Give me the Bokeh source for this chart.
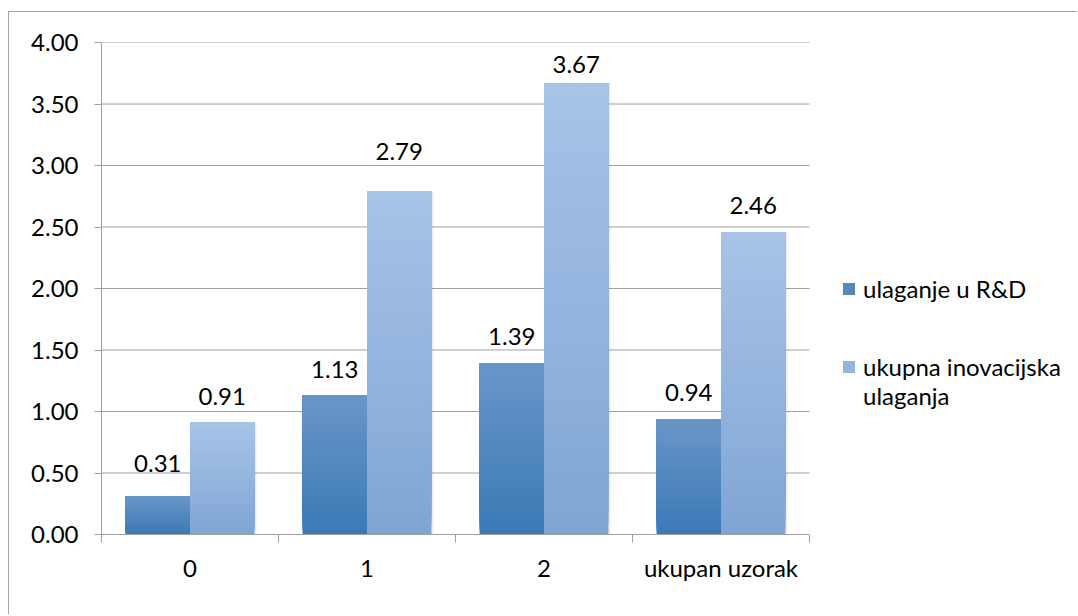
from bokeh.plotting import figure
from bokeh.models import (Range1d, FixedTicker, ColumnDataSource, Legend, LegendItem,
                          PrintfTickFormatter)
from bokeh.embed import file_html
from bokeh.resources import INLINE
from bokeh.core.properties import value

# ---------------- data ----------------
categories = ["0", "1", "2", "ukupan uzorak"]
series_names = ["ulaganje u R&D", "ukupna inovacijska", "ulaganja"]
rd_values = [0.31, 1.13, 1.39, 0.94]
total_values = [0.91, 2.79, 3.67, 2.46]
y_ticks = [0.0, 0.5, 1.0, 1.5, 2.0, 2.5, 3.0, 3.5, 4.0]

# ---------------- styling ----------------
FONT = "Lato"
FS = "24px"
GREY = "#a0a0a0"
BAR_W = 0.364
DARK = ("#3b79b6", "#6a96c8")    # bottom, top
LIGHT = ("#7fa5d5", "#a8c4e7")   # bottom, top
N_STEPS = 40
CAT_PX = 177                     # pixel width of one category slot
FRAME_W = 976                    # plot frame incl. legend area
FRAME_H = 492
Y_MAX = 4.0
N_CAT = len(categories)
HALF_DIGIT_PX = 8.5              # half the height of a digit at FS
# pixel gap between each bar top and the bottom of its label (as placed in the original)
rd_label_gap_px = [24, 18, 19, 18]
total_label_gap_px = [18, 31, 10, 18]

centers = [i + 0.5 for i in range(N_CAT)]
x_rd = [c - BAR_W / 2 for c in centers]
x_tot = [c + BAR_W / 2 for c in centers]


def hex2rgb(h):
    h = h.lstrip("#")
    return tuple(int(h[i:i + 2], 16) for i in (0, 2, 4))


def lerp(c0, c1, t):
    a, b = hex2rgb(c0), hex2rgb(c1)
    return "#%02x%02x%02x" % tuple(round(a[i] + (b[i] - a[i]) * t) for i in range(3))


def gradient_source(xs, vals, colors):
    d = dict(x=[], bottom=[], top=[], color=[])
    for k in range(N_STEPS):
        for x, v in zip(xs, vals):
            d["x"].append(x)
            d["bottom"].append(v * k / N_STEPS)
            d["top"].append(v)
            d["color"].append(lerp(colors[0], colors[1], (k + 0.5) / N_STEPS))
    return ColumnDataSource(d)


p = figure(
    frame_width=FRAME_W, frame_height=FRAME_H,
    min_border_left=92, min_border_right=0, min_border_top=30, min_border_bottom=80,
    x_range=Range1d(0, FRAME_W / CAT_PX), y_range=Range1d(0, Y_MAX),
    output_backend="svg", toolbar_location=None,
)
p.styles = {"border-top": "1px solid #a6a6a6", "border-left": "1px solid #a6a6a6",
            "margin-top": "11px", "margin-left": "8px"}
p.outline_line_color = None
p.background_fill_color = "white"
p.border_fill_color = "white"

# horizontal gridlines limited to the category area
p.segment(x0=0, x1=N_CAT, y0=y_ticks[1:], y1=y_ticks[1:], line_color=GREY, line_width=1)
p.xgrid.visible = False
p.ygrid.visible = False

# shadows
shadow_kw = dict(width=BAR_W, fill_color="#000000", fill_alpha=0.07, line_color=None)
p.vbar(x=[x + 0.012 for x in x_rd], top=rd_values, bottom=0, **shadow_kw)
p.vbar(x=[x + 0.012 for x in x_tot], top=total_values, bottom=0, **shadow_kw)

src_rd = gradient_source(x_rd, rd_values, DARK)
src_tot = gradient_source(x_tot, total_values, LIGHT)
r_rd = p.vbar(x="x", bottom="bottom", top="top", width=BAR_W, fill_color="color",
              line_color=None, source=src_rd)
r_tot = p.vbar(x="x", bottom="bottom", top="top", width=BAR_W, fill_color="color",
               line_color=None, source=src_tot)

# value labels
all_vals = rd_values + total_values
lab = ColumnDataSource(dict(
    x=x_rd + x_tot,
    y=all_vals,
    dy=[-(g + HALF_DIGIT_PX) for g in rd_label_gap_px + total_label_gap_px],
    t=["%.2f" % v for v in all_vals],
))
p.text(x="x", y="y", text="t", y_offset="dy", source=lab, text_align="center",
       text_baseline="middle", text_font=value(FONT), text_font_size=FS,
       text_color="#000000")

# axes
p.yaxis.ticker = FixedTicker(ticks=y_ticks)
p.yaxis.formatter = PrintfTickFormatter(format="%.2f")
p.yaxis.major_tick_out = 7
p.yaxis.major_tick_in = 0
p.yaxis.minor_tick_line_color = None
p.yaxis.axis_line_color = GREY
p.yaxis.major_tick_line_color = GREY
p.yaxis.major_label_standoff = 16

p.xaxis.bounds = (0, N_CAT)
p.xaxis.ticker = FixedTicker(ticks=centers, minor_ticks=list(range(N_CAT + 1)))
p.xaxis.major_label_overrides = {c: cat for c, cat in zip(centers, categories)}
p.xaxis.major_tick_line_color = None
p.xaxis.major_tick_out = 0
p.xaxis.major_tick_in = 0
p.xaxis.minor_tick_line_color = GREY
p.xaxis.minor_tick_out = 8
p.xaxis.minor_tick_in = 0
p.xaxis.axis_line_color = GREY
p.xaxis.major_label_standoff = 10

for ax in (p.xaxis, p.yaxis):
    ax.major_label_text_font = FONT
    ax.major_label_text_font_size = FS
    ax.major_label_text_color = "#000000"

# legends (inside the wide frame, to the right of the categories)
leg_kw = dict(padding=0, margin=0, border_line_color=None, background_fill_alpha=0,
              glyph_width=15, glyph_height=15, label_standoff=7,
              label_text_font=FONT, label_text_font_size=FS, label_text_color="#000000")
mid = N_CAT * (N_STEPS // 2)
legend_a = Legend(
    items=[LegendItem(label=series_names[0], renderers=[r_rd], index=mid),
           LegendItem(label=series_names[1], renderers=[r_tot], index=mid)],
    location=(740, 153), spacing=49, **leg_kw)
leg_kw_b = dict(leg_kw, glyph_width=0, label_standoff=22)
legend_b = Legend(
    items=[LegendItem(label=series_names[2], renderers=[r_tot], index=mid)],
    location=(740, 124), spacing=0, **leg_kw_b)
p.add_layout(legend_a)
p.add_layout(legend_b)

open("out.html", "w").write(file_html(p, INLINE))
